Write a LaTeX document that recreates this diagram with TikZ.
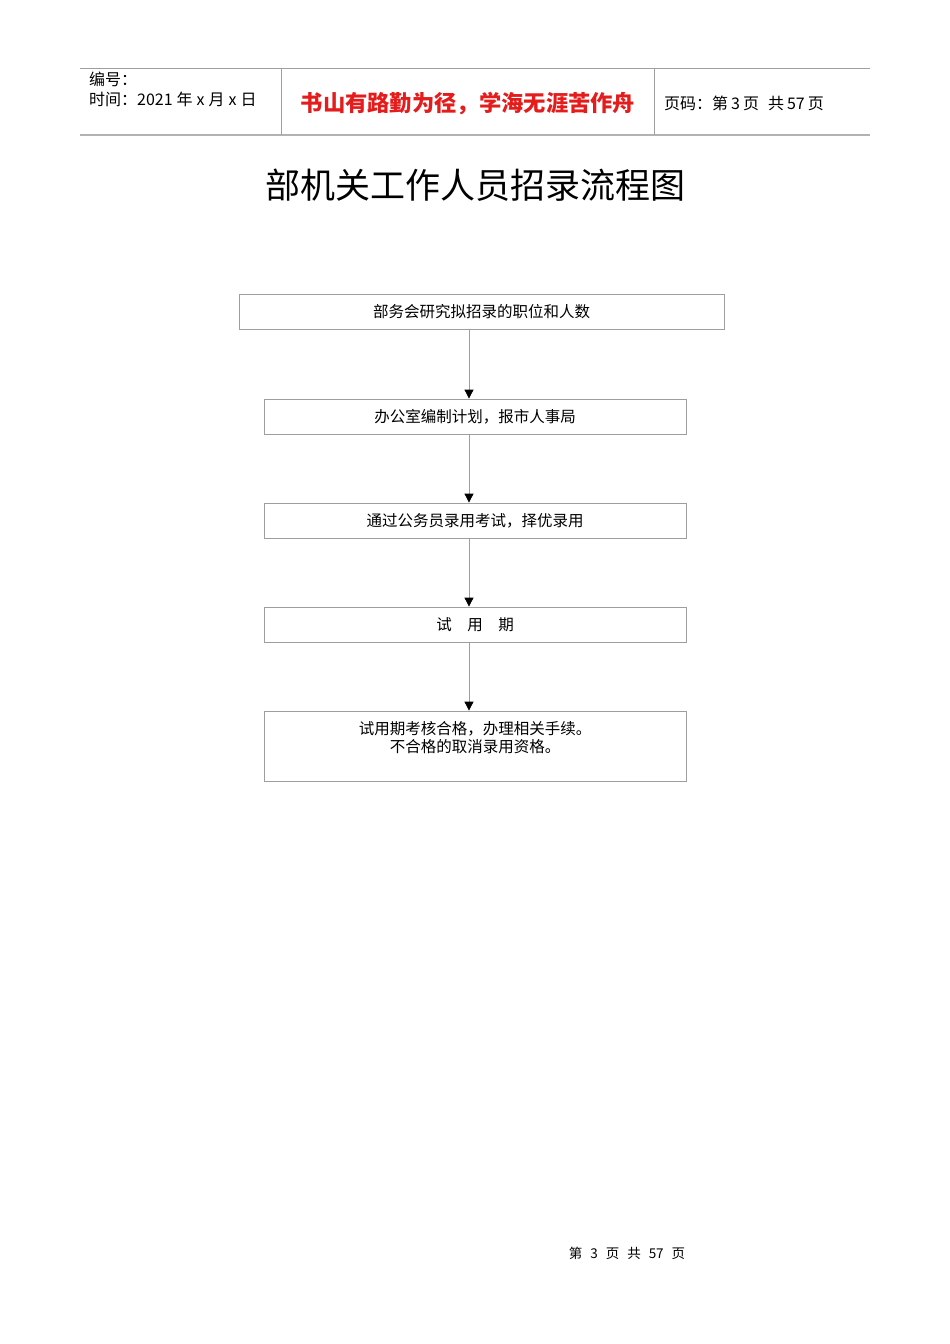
\documentclass[tikz,border=0pt]{standalone}
\usepackage{fontspec}
\newfontfamily\cjk{Noto Sans CJK SC}
\usetikzlibrary{arrows.meta}
\definecolor{linegray}{gray}{0.62}
\definecolor{mottored}{RGB}{228,28,28}

\tikzset{
  box/.style={draw=linegray, line width=0.8pt, minimum height=35pt, inner sep=0pt,
    align=center, font=\cjk\fontsize{15.5}{18}\selectfont},
  flow/.style={draw=linegray, line width=0.8pt, -{Triangle[black,width=9pt,length=9pt]}},
  head/.style={anchor=west, inner sep=0pt, font=\cjk\fontsize{16}{19}\selectfont},
}

\begin{document}
\begin{tikzpicture}[x=1pt,y=-1pt]
    \useasboundingbox [fill=white] (0,0) rectangle (950,1344);
    %\draw[very thin,color=gray] (0,0) grid[step=50] (950,1344);
    \draw [gray!75, line width=0.8pt] (80,68) -- (870,68);
    \draw [gray!60, line width=2pt] (80,135) -- (870,135);
    \draw [gray!75, line width=0.8pt] (281,68) -- (281,135);
    \draw [gray!75, line width=0.8pt] (654,68) -- (654,135);
    \node [head] (num) at (89,79) {编号：};
    \node [head] (date) at (89,99) {时间：2021\hspace{4pt}年\hspace{4pt}x\hspace{4pt}月\hspace{4pt}x\hspace{4pt}日};
    \node [inner sep=0pt, text=mottored, font=\cjk\bfseries\fontsize{22.3}{26}\selectfont] (motto) at (468,104) {书山有路勤为径，学海无涯苦作舟};
    \node [head] (page) at (664,103) {页码：第\hspace{3pt}3\hspace{3pt}页\hspace{9pt}共\hspace{3pt}57\hspace{3pt}页};
    \node [inner sep=0pt, font=\cjk\fontsize{35}{40}\selectfont] (title) at (475,185) {部机关工作人员招录流程图};

    \node [box, minimum width=485pt] (b1) at (481.5,312) {部务会研究拟招录的职位和人数};
    \node [box, minimum width=422pt] (b2) at (475,416.5) {办公室编制计划，报市人事局};
    \node [box, minimum width=422pt] (b3) at (475,520.5) {通过公务员录用考试，择优录用};
    \node [box, minimum width=422pt] (b4) at (475,624.5) {试\quad 用\quad 期};
    \node [box, minimum width=422pt, minimum height=70pt] (b5) at (475,746) {试用期考核合格，办理相关手续。\\不合格的取消录用资格。\\~};

    \coordinate (ax) at (469,0);
    \draw [flow] (b1.south -| ax) -- (b2.north -| ax);
    \draw [flow] (b2.south -| ax) -- (b3.north -| ax);
    \draw [flow] (b3.south -| ax) -- (b4.north -| ax);
    \draw [flow] (b4.south -| ax) -- (b5.north -| ax);

    \node [inner sep=0pt, font=\cjk\fontsize{13.5}{16}\selectfont] (foot) at (627,1253) {第\hspace{8pt}3\hspace{8pt}页\hspace{8pt}共\hspace{8pt}57\hspace{8pt}页};
\end{tikzpicture}
\end{document}
